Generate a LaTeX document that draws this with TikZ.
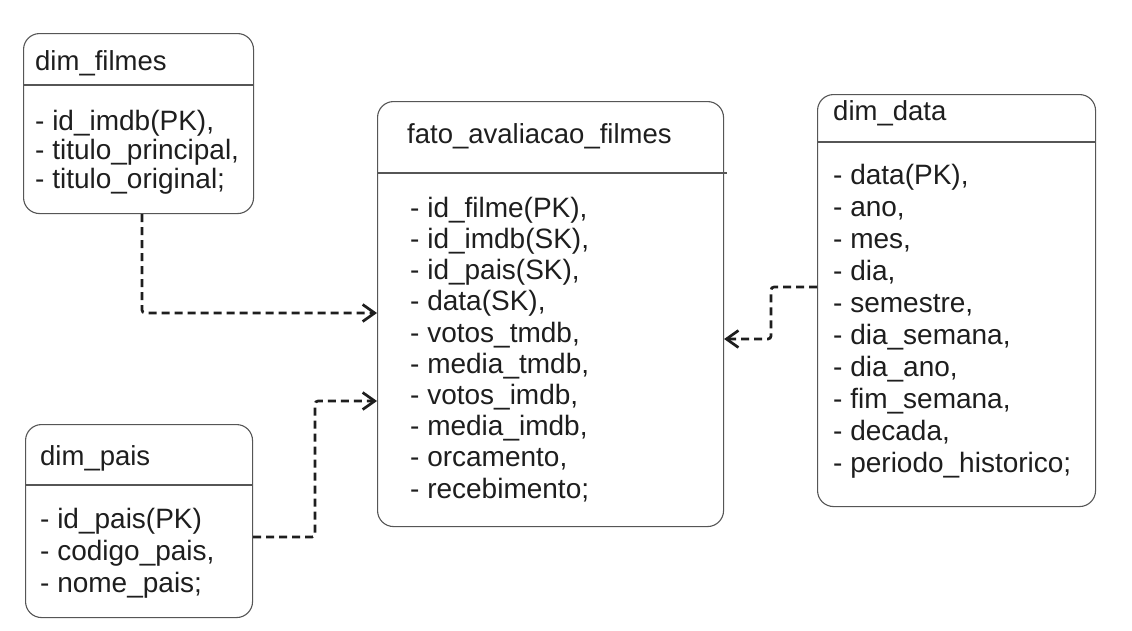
\documentclass[tikz,border=0pt]{standalone}
\usepackage{fontspec}
\setmainfont{Liberation Sans}
\usetikzlibrary{arrows.meta}

\definecolor{ink}{HTML}{1E1E1E}
\tikzset{
  tbl/.style = {draw=ink!75, line width=1.1pt, rounded corners=16pt, anchor=north west, inner sep=0pt},
  sep/.style = {draw=ink!75, line width=1.1pt},
  ttl/.style = {anchor=base west, inner sep=0pt, text=ink, font=\fontsize{27.5}{30}\selectfont},
  itm/.style = {anchor=base west, inner sep=0pt, text=ink, align=left, font=\fontsize{28}{#1}\selectfont},
  itm/.default = 31.5,
  link/.style = {draw=ink, line width=2.7pt, dash pattern=on 8pt off 5pt, rounded corners=3pt,
    -{Straight Barb[length=12pt,width=17pt]}}
}

\begin{document}
\begin{tikzpicture}[x=1pt, y=-1pt]
\useasboundingbox[fill=white] (0,0) rectangle (1132,630);

% tables
\node[tbl, minimum width=230pt, minimum height=180pt] (filmes) at (23,33) {};
\node[tbl, minimum width=346pt, minimum height=425pt] (fato) at (377,101) {};
\node[tbl, minimum width=278pt, minimum height=412pt] (data) at (817,94) {};
\node[tbl, minimum width=227pt, minimum height=193pt] (pais) at (25,424) {};

% header lines
\draw[sep] (filmes.west |- 0,85) -- (filmes.east |- 0,85);
\draw[sep] (fato.west |- 0,173) -- ([xshift=3pt]fato.east |- 0,173);
\draw[sep] (data.west |- 0,142) -- (data.east |- 0,142);
\draw[sep] (pais.west |- 0,485) -- (pais.east |- 0,485);

% titles
\node[ttl] (filmes-t) at (35,70) {dim\_filmes};
\node[ttl] (fato-t) at (407,143) {fato\_avaliacao\_filmes};
\node[ttl] (data-t) at (833,120) {dim\_data};
\node[ttl] (pais-t) at (40,465) {dim\_pais};

% fields (placed by the baseline of the last line)
\node[itm=29] (filmes-c) at (35,188) {- id\_imdb(PK),\\- titulo\_principal,\\- titulo\_original;};
\node[itm=31.2] (fato-c) at (410,498) {- id\_filme(PK),\\- id\_imdb(SK),\\- id\_pais(SK),\\- data(SK),\\- votos\_tmdb,\\- media\_tmdb,\\- votos\_imdb,\\- media\_imdb,\\- orcamento,\\- recebimento;};
\node[itm=31.9] (data-c) at (833,472) {- data(PK),\\- ano,\\- mes,\\- dia,\\- semestre,\\- dia\_semana,\\- dia\_ano,\\- fim\_semana,\\- decada,\\- periodo\_historico;};
\node[itm=32] (pais-c) at (40,592) {- id\_pais(PK)\\- codigo\_pais,\\- nome\_pais;};

% connectors
\coordinate (pbend) at (315,401);
\coordinate (dbend) at (771,339);
\draw[link] (filmes.south -| 142,0) |- (fato.west |- 0,313);
\draw[link] (pais.east |- 0,537) -| (pbend) -- (fato.west |- pbend);
\draw[link] (data.west |- 0,287) -| (dbend) -- (fato.east |- dbend);
\end{tikzpicture}
\end{document}
